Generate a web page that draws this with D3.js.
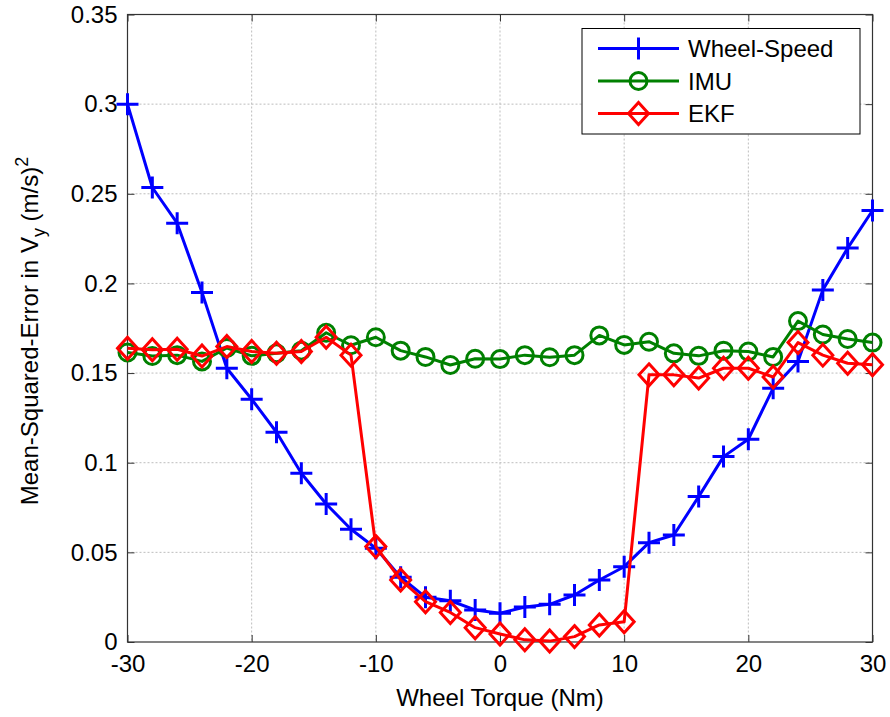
<!DOCTYPE html>
<html><head><meta charset="utf-8">
<script src="https://cdn.jsdelivr.net/npm/d3@7"></script>
<style>body{margin:0;background:#fff;} svg{display:block;font-family:"Liberation Sans",Arial,sans-serif;}</style>
</head><body>
<svg id="c" width="890" height="717"></svg>
<script>
const torque = [-30,-28,-26,-24,-22,-20,-18,-16,-14,-12,-10,-8,-6,-4,-2,0,2,4,6,8,10,12,14,16,18,20,22,24,26,28,30];
const wheelSpeed = [0.300,0.2535,0.2336,0.195,0.1527,0.1354,0.117,0.0941,0.077,0.0629,0.0523,0.0361,0.0250,0.0230,0.0179,0.0160,0.0195,0.0210,0.0262,0.0346,0.0420,0.0554,0.0597,0.0811,0.1034,0.1131,0.1416,0.1564,0.1964,0.2197,0.2407];
const imu = [0.1615,0.1595,0.1600,0.1565,0.1640,0.1596,0.1610,0.1625,0.1725,0.1655,0.1700,0.1625,0.1590,0.1545,0.1580,0.1578,0.1600,0.1588,0.1600,0.1710,0.1657,0.1675,0.1610,0.1596,0.1625,0.1620,0.1590,0.1790,0.1715,0.1690,0.1670];
const ekf = [0.1639,0.1630,0.1633,0.1595,0.1648,0.1620,0.1610,0.1620,0.1700,0.1600,0.0532,0.0346,0.0225,0.0165,0.0080,0.0045,0.0012,0.0005,0.0030,0.0095,0.0113,0.1490,0.1490,0.1472,0.1527,0.1527,0.1478,0.1670,0.1600,0.1555,0.1546];
const xTicks = [-30,-20,-10,0,10,20,30];
const xTickLabels = ["-30","-20","-10","0","10","20","30"];
const yTicks = [0,0.05,0.1,0.15,0.2,0.25,0.3,0.35];
const yTickLabels = ["0","0.05","0.1","0.15","0.2","0.25","0.3","0.35"];
const seriesNames = ["Wheel-Speed","IMU","EKF"];

const svg = d3.select("#c");
const L=127.5, R=872.5, T=14.5, B=642;
const x = d3.scaleLinear().domain([-30,30]).range([L,R]);
const y = d3.scaleLinear().domain([0,0.35]).range([B,T]);

// grid
const g = svg.append("g");
g.selectAll(".gx").data(xTicks.slice(1,-1)).enter().append("line")
  .attr("x1",d=>x(d)).attr("x2",d=>x(d)).attr("y1",T).attr("y2",B)
  .attr("stroke","#bdbdbd").attr("stroke-width",1).attr("stroke-dasharray","2,2");
g.selectAll(".gy").data(yTicks.slice(1,-1)).enter().append("line")
  .attr("y1",d=>y(d)).attr("y2",d=>y(d)).attr("x1",L).attr("x2",R)
  .attr("stroke","#bdbdbd").attr("stroke-width",1).attr("stroke-dasharray","2,2");

// axes
const tickLen=7;
const ax = svg.append("g").attr("transform",`translate(0,${B})`)
  .call(d3.axisBottom(x).tickValues(xTicks).tickSizeInner(-tickLen).tickSizeOuter(0).tickPadding(13).tickFormat((d,i)=>xTickLabels[i]));
const ay = svg.append("g").attr("transform",`translate(${L},0)`)
  .call(d3.axisLeft(y).tickValues(yTicks).tickSizeInner(-tickLen).tickSizeOuter(0).tickPadding(10).tickFormat((d,i)=>yTickLabels[i]));
const axT = svg.append("g").attr("transform",`translate(0,${T})`)
  .call(d3.axisTop(x).tickValues(xTicks).tickSizeInner(-tickLen).tickSizeOuter(0).tickFormat(""));
const ayR = svg.append("g").attr("transform",`translate(${R},0)`)
  .call(d3.axisRight(y).tickValues(yTicks).tickSizeInner(-tickLen).tickSizeOuter(0).tickFormat(""));
[ax,ay,axT,ayR].forEach(a=>{
  a.select(".domain").remove();
  a.selectAll("line").attr("stroke","#333");
  a.selectAll("text").attr("font-size",24).attr("fill","#000").attr("font-family","'Liberation Sans',Arial,sans-serif");
});
ax.selectAll("text").attr("dy","0.72em");
svg.append("rect").attr("x",L).attr("y",T).attr("width",R-L).attr("height",B-T)
  .attr("fill","none").attr("stroke","#333").attr("stroke-width",1.2);

// series
const series = [
  {name:seriesNames[0], vals:wheelSpeed, color:"#0000ff", marker:"plus"},
  {name:seriesNames[1], vals:imu, color:"#008000", marker:"circle"},
  {name:seriesNames[2], vals:ekf, color:"#ff0000", marker:"diamond"}
];
function drawMarker(sel, type, color){
  if(type==="plus"){
    sel.append("path").attr("d","M-11,0H11M0,-11V11").attr("stroke",color).attr("stroke-width",3).attr("fill","none");
  } else if(type==="circle"){
    sel.append("circle").attr("r",8.5).attr("stroke",color).attr("stroke-width",3).attr("fill","none");
  } else {
    sel.append("path").attr("d","M0,-11L10,0L0,11L-10,0Z").attr("stroke",color).attr("stroke-width",3).attr("fill","none");
  }
}
const line = d3.line().x((d,i)=>x(torque[i])).y(d=>y(d));
const plot = svg.append("g");
series.forEach(s=>{
  plot.append("path").attr("d",line(s.vals)).attr("fill","none")
    .attr("stroke",s.color).attr("stroke-width",3).attr("stroke-linejoin","round");
  s.vals.forEach((v,i)=>{
    const m = plot.append("g").attr("transform",`translate(${x(torque[i])},${y(v)})`);
    drawMarker(m, s.marker, s.color);
  });
});

// legend
const lg = svg.append("g");
lg.append("rect").attr("x",582).attr("y",28.5).attr("width",278).attr("height",105.5)
  .attr("fill","#fff").attr("stroke","#000").attr("stroke-width",1);
const rowsY=[48.5,81,113.5];
series.forEach((s,i)=>{
  lg.append("line").attr("x1",598).attr("x2",679).attr("y1",rowsY[i]).attr("y2",rowsY[i])
    .attr("stroke",s.color).attr("stroke-width",3);
  const m = lg.append("g").attr("transform",`translate(638.5,${rowsY[i]})`);
  drawMarker(m, s.marker, s.color);
  lg.append("text").attr("x",688).attr("y",rowsY[i]).attr("dy","0.36em")
    .attr("font-size",24).text(s.name);
});

// axis labels
svg.append("text").attr("x",500).attr("y",706).attr("text-anchor","middle")
  .attr("font-size",24).text("Wheel Torque (Nm)");
const yl = svg.append("text").attr("transform","translate(38,331) rotate(-90)")
  .attr("text-anchor","middle").attr("font-size",24);
yl.append("tspan").text("Mean-Squared-Error in V");
yl.append("tspan").attr("font-size",18).attr("dy",7).text("y");
yl.append("tspan").attr("dy",-7).text(" (m/s)");
yl.append("tspan").attr("font-size",18).attr("dy",-10).text("2");
</script>
</body></html>
